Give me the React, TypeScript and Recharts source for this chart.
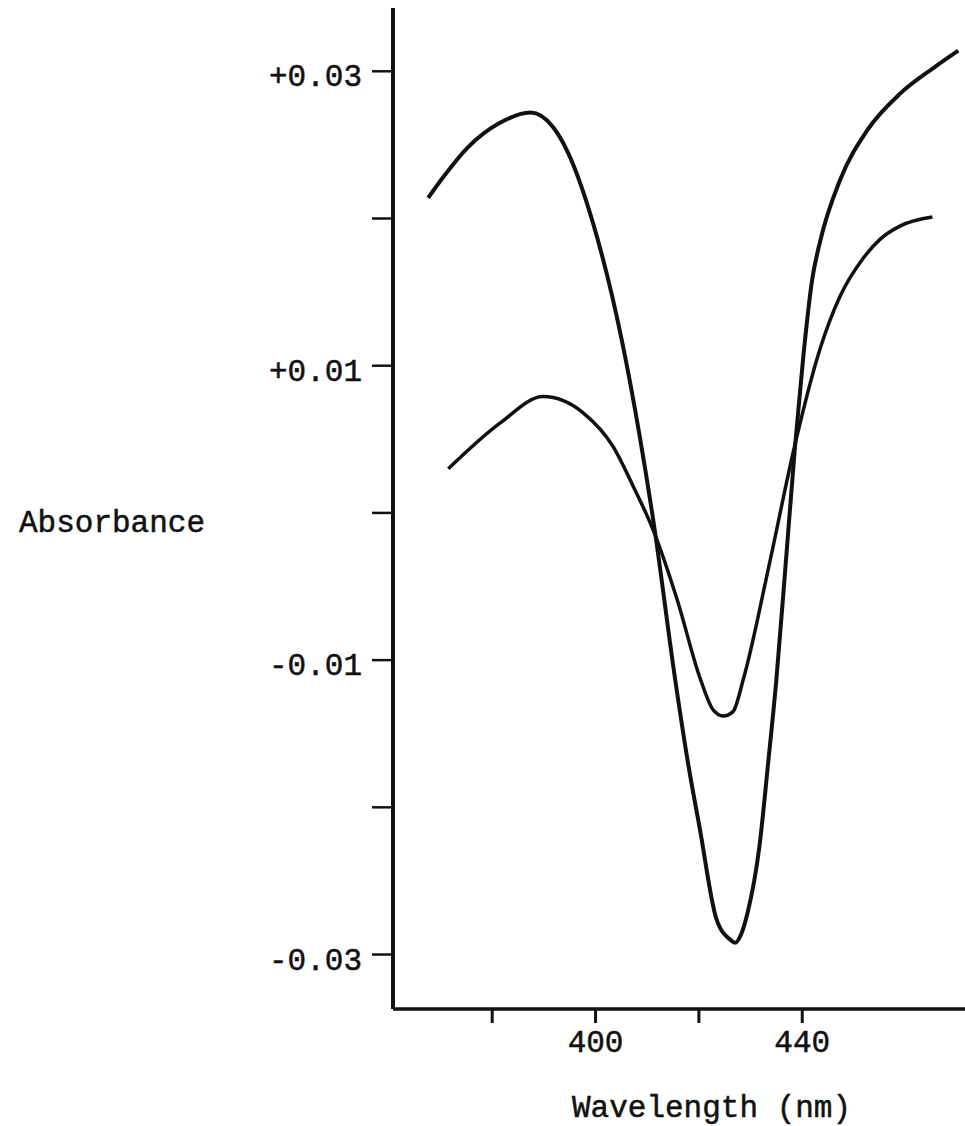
import { LineChart, Line, XAxis, YAxis } from "recharts";

// curve with the deep minimum near 427 nm
const deepCurve = [
  { nm: 367.6, v: 0.0214 },
  { nm: 370.5, v: 0.0228 },
  { nm: 375.2, v: 0.0248 },
  { nm: 381.5, v: 0.0265 },
  { nm: 387.4, v: 0.0272 },
  { nm: 391.8, v: 0.0262 },
  { nm: 394.5, v: 0.0246 },
  { nm: 399.5, v: 0.0197 },
  { nm: 405.1, v: 0.0117 },
  { nm: 408.6, v: 0.0051 },
  { nm: 411.3, v: -0.0008 },
  { nm: 415.4, v: -0.0113 },
  { nm: 417.9, v: -0.017 },
  { nm: 420.2, v: -0.0215 },
  { nm: 423.4, v: -0.0276 },
  { nm: 426.1, v: -0.029 },
  { nm: 427.0, v: -0.0292 },
  { nm: 428.2, v: -0.0286 },
  { nm: 429.4, v: -0.0272 },
  { nm: 431.7, v: -0.0227 },
  { nm: 433.4, v: -0.017 },
  { nm: 435.0, v: -0.0113 },
  { nm: 436.9, v: -0.003 },
  { nm: 438.6, v: 0.0045 },
  { nm: 440.2, v: 0.0106 },
  { nm: 441.9, v: 0.0158 },
  { nm: 443.5, v: 0.0185 },
  { nm: 447.3, v: 0.0226 },
  { nm: 452.6, v: 0.026 },
  { nm: 459.0, v: 0.0285 },
  { nm: 465.3, v: 0.0302 },
  { nm: 470.2, v: 0.0314 },
];

// curve with the shallow minimum near 425 nm
const shallowCurve = [
  { nm: 371.5, v: 0.003 },
  { nm: 381.5, v: 0.0061 },
  { nm: 389.9, v: 0.0079 },
  { nm: 397.6, v: 0.0068 },
  { nm: 403.4, v: 0.0045 },
  { nm: 407.3, v: 0.0018 },
  { nm: 411.2, v: -0.0012 },
  { nm: 415.8, v: -0.0059 },
  { nm: 420.3, v: -0.0113 },
  { nm: 422.8, v: -0.0134 },
  { nm: 424.7, v: -0.0138 },
  { nm: 426.6, v: -0.0135 },
  { nm: 428.6, v: -0.0113 },
  { nm: 433.8, v: -0.0032 },
  { nm: 438.5, v: 0.0045 },
  { nm: 443.5, v: 0.0112 },
  { nm: 447.3, v: 0.0147 },
  { nm: 451.8, v: 0.0173 },
  { nm: 455.1, v: 0.0186 },
  { nm: 459.0, v: 0.0195 },
  { nm: 465.2, v: 0.0201 },
];

const xTicks = [380, 400, 420, 440];
const xLabels: Record<number, string> = { 400: "400", 440: "440" };
const yTicks = [0.03, 0.02, 0.01, 0, -0.01, -0.02, -0.03];
const yLabels: Record<string, string> = {
  "0.03": "+0.03",
  "0.01": "+0.01",
  "-0.01": "-0.01",
  "-0.03": "-0.03",
};

const FONT = "'Liberation Mono', 'DejaVu Sans Mono', monospace";
const FS = 31;
const INK = "#111";

const YTick = (props: any) => {
  const { x, y, payload } = props;
  const txt = yLabels[String(payload.value)] || "";
  if (!txt) return null;
  return (
    <text x={x - 8} y={y + 15} textAnchor="end" fontFamily={FONT} fontSize={FS}
      fill={INK} stroke={INK} strokeWidth={0.5}>
      {txt}
    </text>
  );
};

const XTick = (props: any) => {
  const { x, y, payload } = props;
  const txt = xLabels[payload.value] || "";
  if (!txt) return null;
  return (
    <text x={x} y={y + 27} textAnchor="middle" fontFamily={FONT} fontSize={FS}
      fill={INK} stroke={INK} strokeWidth={0.5}>
      {txt}
    </text>
  );
};

export default function App() {
  return (
    <div style={{ position: "absolute", left: 0, top: 0, background: "#fff" }}>
      <LineChart width={965} height={1126} margin={{ top: 8, right: 0, bottom: 0, left: 0 }}>
        <XAxis
          type="number"
          dataKey="nm"
          domain={[360.8, 471.5]}
          ticks={xTicks}
          allowDataOverflow
          height={117}
          axisLine={{ stroke: INK, strokeWidth: 3.5 }}
          tickLine={{ stroke: INK, strokeWidth: 3 }}
          tickSize={14}
          tick={<XTick />}
          label={() => (
            <text x={572} y={1117} fontFamily={FONT} fontSize={FS}
              fill={INK} stroke={INK} strokeWidth={0.5}>
              Wavelength (nm)
            </text>
          )}
        />
        <YAxis
          type="number"
          domain={[-0.0337, 0.0343]}
          ticks={yTicks}
          allowDataOverflow
          width={393}
          axisLine={{ stroke: INK, strokeWidth: 4 }}
          tickLine={{ stroke: INK, strokeWidth: 2.5 }}
          tickSize={21}
          tick={<YTick />}
          label={() => (
            <text x={205} y={532} textAnchor="end" fontFamily={FONT} fontSize={FS}
              fill={INK} stroke={INK} strokeWidth={0.5}>
              Absorbance
            </text>
          )}
        />
        <Line
          data={deepCurve}
          dataKey="v"
          type="monotone"
          stroke={INK}
          strokeWidth={4}
          dot={false}
          isAnimationActive={false}
        />
        <Line
          data={shallowCurve}
          dataKey="v"
          type="monotone"
          stroke={INK}
          strokeWidth={3.5}
          dot={false}
          isAnimationActive={false}
        />
      </LineChart>
    </div>
  );
}
